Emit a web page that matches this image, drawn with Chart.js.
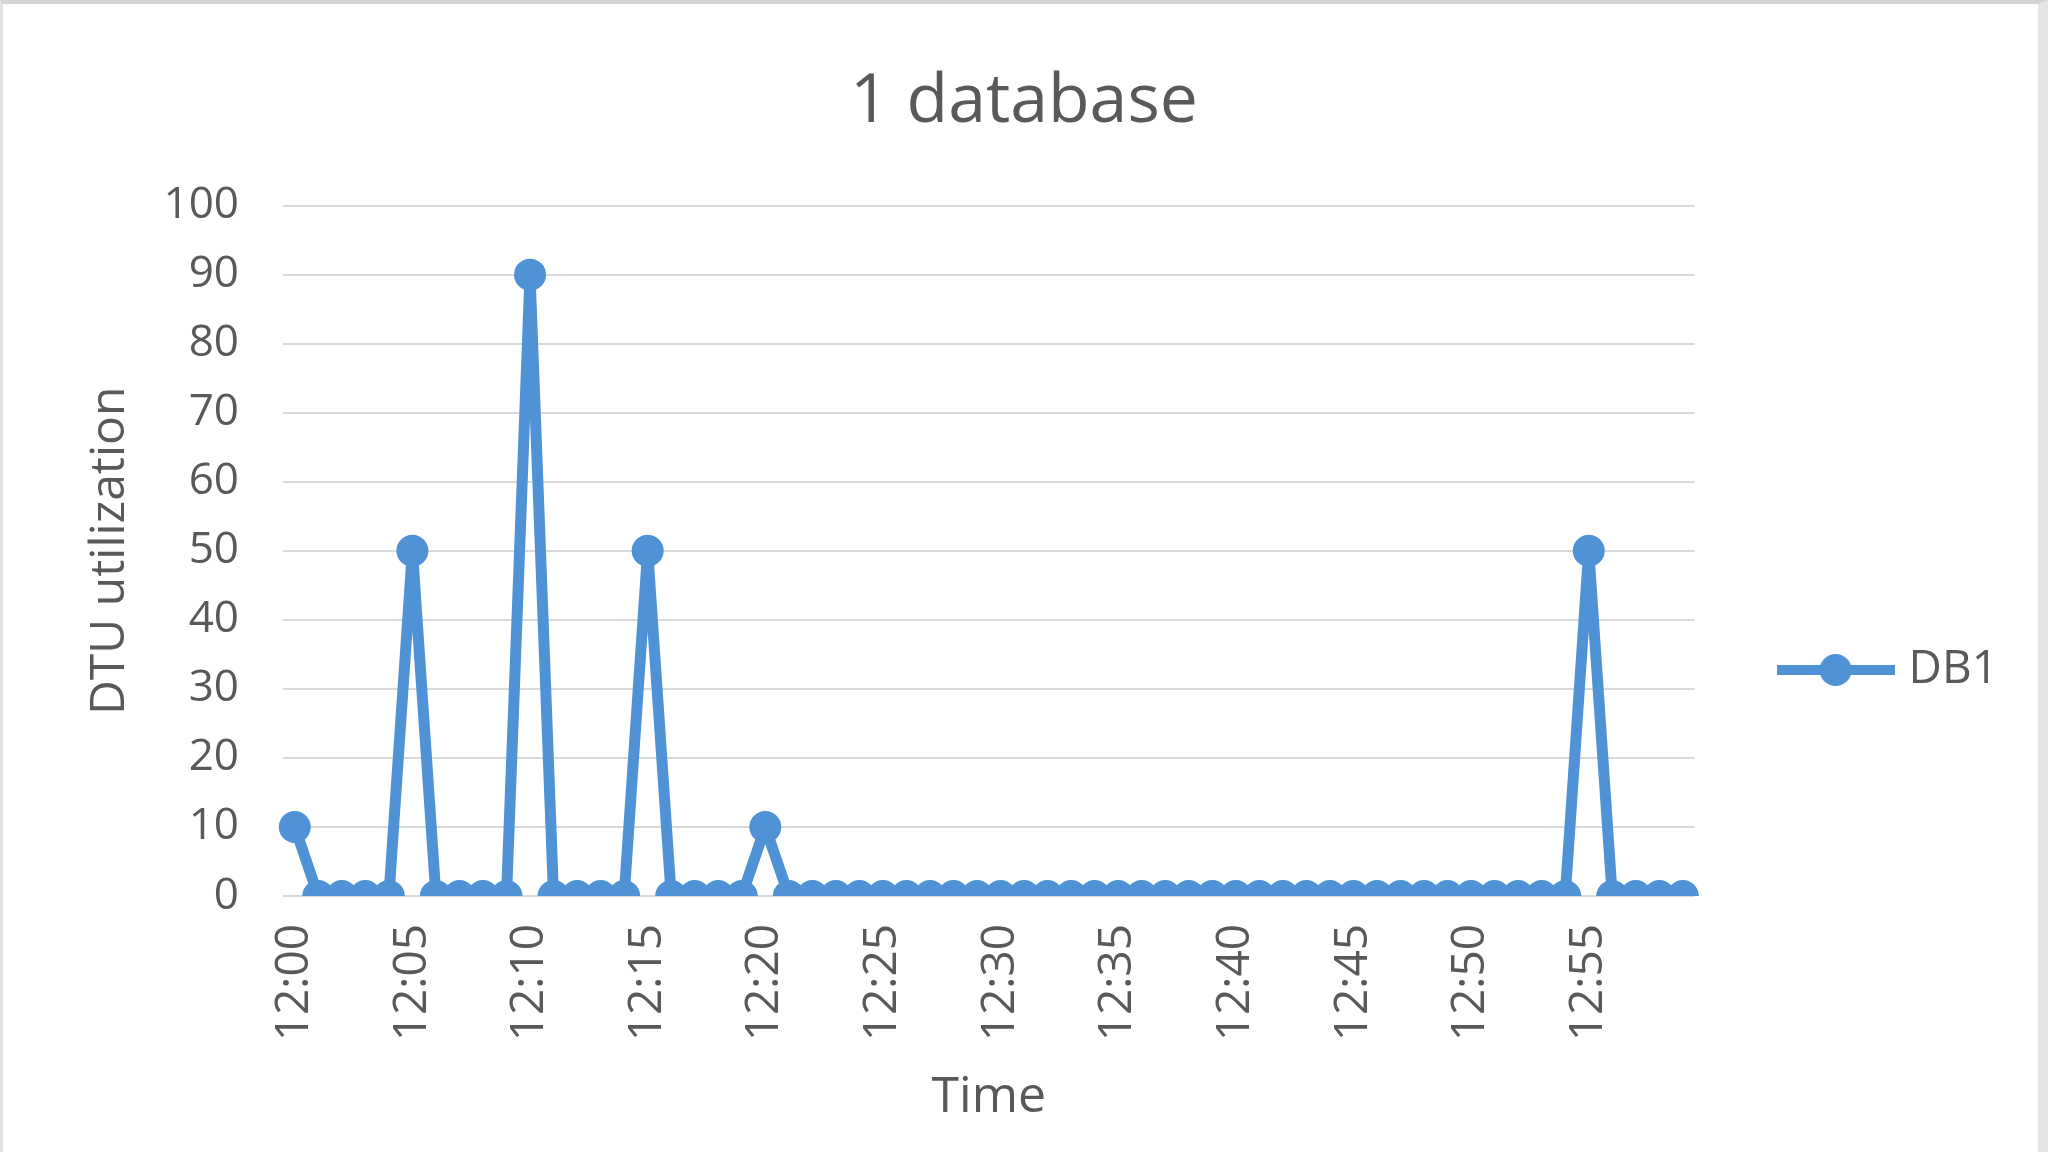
<!DOCTYPE html>
<html lang="en">
<head>
<meta charset="UTF-8">
<title>1 database</title>
<script src="https://cdn.jsdelivr.net/npm/chart.js"></script>
<style>
  html, body { margin: 0; padding: 0; background: #fff; }
  #wrap { position: relative; width: 2048px; height: 1152px; overflow: hidden; }
  #dtuChart { display: block; }
  #frame { position: absolute; left: 0; top: 0; right: 0; bottom: 0;
           border-top: 4px solid #d4d4d4; border-left: 3px solid #e2e2e2;
           border-right: 10px solid #e6e6e6; pointer-events: none; }
</style>
</head>
<body>
<div id="wrap">
  <canvas id="dtuChart" width="2048" height="1152"></canvas>
  <div id="frame"></div>
</div>
<script>
// minutes on the x axis
const times = [
  '12:00','12:01','12:02','12:03','12:04','12:05','12:06','12:07','12:08','12:09',
  '12:10','12:11','12:12','12:13','12:14','12:15','12:16','12:17','12:18','12:19',
  '12:20','12:21','12:22','12:23','12:24','12:25','12:26','12:27','12:28','12:29',
  '12:30','12:31','12:32','12:33','12:34','12:35','12:36','12:37','12:38','12:39',
  '12:40','12:41','12:42','12:43','12:44','12:45','12:46','12:47','12:48','12:49',
  '12:50','12:51','12:52','12:53','12:54','12:55','12:56','12:57','12:58','12:59'
];
// DTU utilization of DB1
const db1 = [
  10, 0, 0, 0, 0, 50, 0, 0, 0, 0,
  90, 0, 0, 0, 0, 50, 0, 0, 0, 0,
  10, 0, 0, 0, 0, 0, 0, 0, 0, 0,
  0, 0, 0, 0, 0, 0, 0, 0, 0, 0,
  0, 0, 0, 0, 0, 0, 0, 0, 0, 0,
  0, 0, 0, 0, 0, 50, 0, 0, 0, 0
];
const yMin = 0, yMax = 100, yStep = 10;
const labelEvery = 5;

const blue = '#4f92d6';
const grey = '#595959';
const fontFamily = '"Open Sans", "Noto Sans", sans-serif';

// legend marker: line with a dot, like the Excel legend
const marker = document.createElement('canvas');
marker.width = 118;
marker.height = 34;
const m = marker.getContext('2d');
m.strokeStyle = blue;
m.fillStyle = blue;
m.lineWidth = 10;
m.beginPath();
m.moveTo(0, 17);
m.lineTo(118, 17);
m.stroke();
m.beginPath();
m.arc(59, 17, 16, 0, Math.PI * 2);
m.fill();

const ctx = document.getElementById('dtuChart').getContext('2d');
new Chart(ctx, {
  type: 'line',
  data: {
    labels: times,
    datasets: [{
      label: 'DB1',
      data: db1,
      borderColor: blue,
      backgroundColor: blue,
      borderWidth: 11,
      pointRadius: 12,
      pointBorderWidth: 8,
      pointBackgroundColor: blue,
      pointBorderColor: blue,
      tension: 0
    }]
  },
  options: {
    responsive: false,
    animation: false,
    devicePixelRatio: 1,
    layout: { padding: { left: 40, right: 40, top: 0, bottom: 0 } },
    plugins: {
      title: {
        display: true,
        text: '1 database',
        color: grey,
        font: { family: fontFamily, size: 68, weight: 'normal' },
        padding: { top: 62, bottom: 62 }
      },
      legend: {
        position: 'right',
        align: 'center',
        title: { display: true, text: '', font: { size: 10 }, padding: { top: 176, bottom: 0 } },
        labels: {
          usePointStyle: true,
          pointStyleWidth: 100,
          padding: 91,
          color: grey,
          font: { family: fontFamily, size: 46 },
          generateLabels(chart) {
            const items = Chart.defaults.plugins.legend.labels.generateLabels(chart);
            items.forEach(it => { it.pointStyle = marker; });
            return items;
          }
        }
      },
      tooltip: { enabled: false }
    },
    scales: {
      x: {
        offset: true,
        grid: { display: false },
        border: { display: false },
        afterFit(scale) { scale.height = 256; },
        ticks: {
          autoSkip: false,
          minRotation: 90,
          maxRotation: 90,
          padding: 20,
          color: grey,
          font: { family: fontFamily, size: 46 },
          callback(value, index) {
            return index % labelEvery === 0 ? this.getLabelForValue(value) : '';
          }
        },
        title: {
          display: true,
          text: 'Time',
          color: grey,
          font: { family: fontFamily, size: 50 },
          padding: { top: 0, bottom: 24 }
        }
      },
      y: {
        min: yMin,
        max: yMax,
        grid: { color: '#d9d9d9', lineWidth: 2, drawTicks: false },
        border: { display: false },
        afterFit(scale) { scale.width = 243; },
        ticks: {
          stepSize: yStep,
          padding: 44,
          color: grey,
          font: { family: fontFamily, size: 44 }
        },
        title: {
          display: true,
          text: 'DTU utilization',
          color: grey,
          font: { family: fontFamily, size: 48 },
          padding: { top: 42, bottom: 0 }
        }
      }
    }
  }
});
</script>
</body>
</html>
